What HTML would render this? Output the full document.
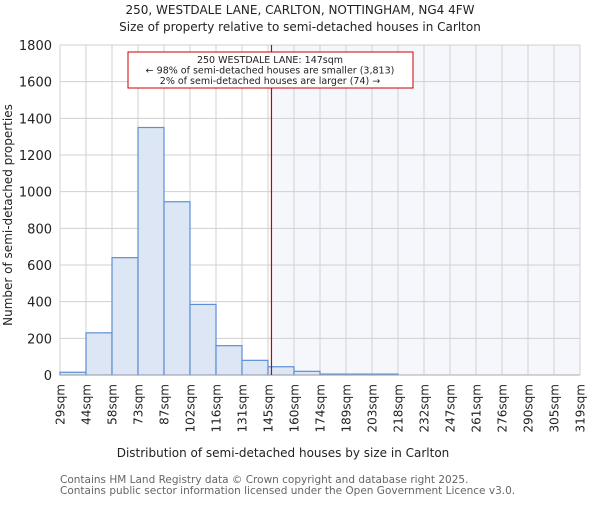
<!DOCTYPE html>
<html><head><meta charset="utf-8"><style>
body{margin:0;background:#fff}
svg text{font-family:"DejaVu Sans","Liberation Sans",sans-serif;fill:#222}
</style></head><body>
<svg id="chart" width="600" height="500">
<text x="300" y="14" font-size="12" text-anchor="middle">250, WESTDALE LANE, CARLTON, NOTTINGHAM, NG4 4FW</text>
<text x="300" y="31" font-size="12" text-anchor="middle">Size of property relative to semi-detached houses in Carlton</text>
<g id="grid"></g><g id="bars"></g><g id="axes"></g>
<text x="283" y="457" font-size="12" text-anchor="middle">Distribution of semi-detached houses by size in Carlton</text>
<text transform="translate(12,215) rotate(-90)" font-size="12" text-anchor="middle">Number of semi-detached properties</text>
<text x="60" y="483" font-size="10.5" style="fill:#666">Contains HM Land Registry data © Crown copyright and database right 2025.</text>
<text x="60" y="494" font-size="10.5" style="fill:#666">Contains public sector information licensed under the Open Government Licence v3.0.</text>
</svg>
<script>
const binLabels=["29sqm","44sqm","58sqm","73sqm","87sqm","102sqm","116sqm","131sqm","145sqm","160sqm","174sqm","189sqm","203sqm","218sqm","232sqm","247sqm","261sqm","276sqm","290sqm","305sqm","319sqm"];
const binStarts=[29,44,58,73,87,102,116,131,145,160,174,189,203,218,232,247,261,276,290,305,319];
const counts=[15,230,640,1350,945,385,160,80,45,20,5,5,5,0,0,0,0,0,0,0];
const yTicks=[0,200,400,600,800,1000,1200,1400,1600,1800];
const propertySize=147;
const NS="http://www.w3.org/2000/svg";
const X0=60,X1=580,Y0=375,Y1=45,YMAX=1800;
const bw=(X1-X0)/counts.length;
const xi=i=>X0+i*bw;
const xv=v=>{let i=0;while(i<binStarts.length-2&&v>binStarts[i+1])i++;return xi(i)+(v-binStarts[i])/(binStarts[i+1]-binStarts[i])*bw;};
const y=v=>Y0-v/YMAX*(Y0-Y1);
function mk(t,a,p){const e=document.createElementNS(NS,t);for(const k in a)e.setAttribute(k,a[k]);p.appendChild(e);return e;}
const grid=document.getElementById('grid'),bars=document.getElementById('bars'),axes=document.getElementById('axes');
const rx=xv(propertySize);
const sh=mk('rect',{x:rx,y:Y1,width:X1-rx,height:Y0-Y1,fill:'#f5f7fd'},grid);


yTicks.forEach(v=>{
 const l=mk('line',{x1:X0,x2:X1,y1:y(v),y2:y(v),stroke:'#d0d0d0','stroke-width':1},grid);
 
 
 const t=mk('text',{x:X0-8,y:y(v)+5,'text-anchor':'end','font-size':13},axes);
 t.textContent=v;
 
 
});
binLabels.forEach((s,i)=>{
 const l=mk('line',{x1:xi(i),x2:xi(i),y1:Y1,y2:Y0,stroke:'#d0d0d0','stroke-width':1},grid);
 
 
 const t=mk('text',{transform:`translate(${xi(i)+4.5},${Y0+9}) rotate(-90)`,'text-anchor':'end','font-size':12},axes);
 t.textContent=s;
 
 
});
counts.forEach((c,i)=>{
 if(c<=0)return;
 const r=mk('rect',{x:xi(i),y:y(c),width:bw,height:Y0-y(c),fill:'#dce6f4',stroke:'#5b8fd4','stroke-width':1.2},bars);
 
 
});
const ax=mk('line',{x1:X0,x2:X1,y1:Y0,y2:Y0,stroke:'#aaa'},axes);


const ml=mk('line',{x1:rx,x2:rx,y1:Y1,y2:Y0,stroke:'#cc0000','stroke-width':1.2},axes);


const box=mk('rect',{x:128,y:52,width:285,height:36,fill:'#fff',stroke:'#cc0000','stroke-width':1},axes);


["250 WESTDALE LANE: 147sqm","← 98% of semi-detached houses are smaller (3,813)","2% of semi-detached houses are larger (74) →"].forEach((s,i)=>{
 const t=mk('text',{x:270,y:63+i*10.5,'text-anchor':'middle','font-size':9.5},axes);
 t.textContent=s;
 
 
});
</script>
</body></html>
